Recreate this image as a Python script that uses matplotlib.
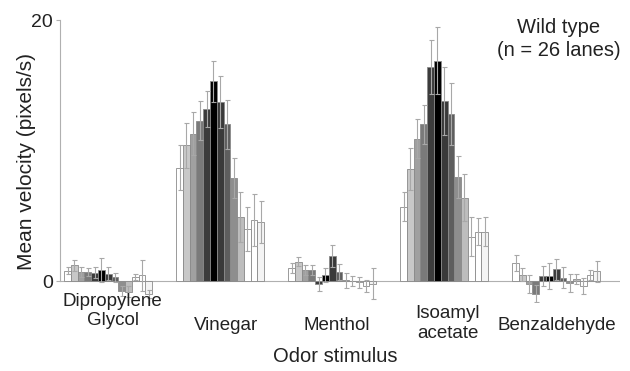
import numpy as np
import matplotlib
matplotlib.use("Agg")
import matplotlib.pyplot as plt
from matplotlib import transforms

plt.rcParams['font.family'] = ['Liberation Sans', 'DejaVu Sans']

odors = ["Dipropylene\nGlycol", "Vinegar", "Menthol", "Isoamyl\nacetate", "Benzaldehyde"]

dipropylene = [0.8, 1.2, 0.7, 0.7, 0.65, 0.85, 0.55, 0.3, -0.75, -0.8, 0.3, 0.45, -1.0]
dipropylene_err = [0.25, 0.4, 0.35, 0.3, 0.4, 0.9, 0.5, 0.35, 0.4, 0.4, 0.25, 1.2, 0.3]

vinegar = [8.7, 10.4, 11.3, 12.3, 13.2, 15.3, 13.7, 12.0, 7.9, 4.9, 4.0, 4.7, 4.5]
vinegar_err = [1.7, 1.7, 1.65, 1.5, 1.4, 1.6, 2.0, 1.9, 1.5, 1.9, 1.7, 2.0, 1.6]

menthol = [1.0, 1.5, 0.85, 0.85, -0.2, 0.45, 1.9, 0.7, 0.05, 0.02, -0.1, -0.35, -0.2]
menthol_err = [0.4, 0.35, 0.35, 0.35, 0.55, 0.55, 0.85, 0.6, 0.6, 0.4, 0.45, 0.45, 1.2]

isoamyl = [5.7, 8.6, 10.9, 12.0, 16.4, 16.9, 13.8, 12.8, 8.0, 6.4, 3.4, 3.8, 3.8]
isoamyl_err = [1.1, 1.6, 1.5, 1.5, 2.1, 2.55, 2.6, 2.35, 1.6, 1.8, 1.5, 1.0, 1.1]

benzaldehyde = [1.4, 0.5, -0.2, -0.95, 0.4, 0.4, 0.9, 0.25, -0.15, 0.15, -0.4, 0.45, 0.75]
benzaldehyde_err = [0.6, 0.5, 0.7, 0.65, 0.75, 1.0, 0.8, 0.8, 0.7, 0.4, 0.6, 0.4, 0.8]

bar_colors = ['#ffffff', '#c8c8c8', '#a0a0a0', '#7a7a7a', '#3c3c3c', '#000000',
              '#3a3a3a', '#5e5e5e', '#8e8e8e', '#bdbdbd', '#ffffff', '#ffffff', '#f4f4f4']

series = [dipropylene, vinegar, menthol, isoamyl, benzaldehyde]
errors = [dipropylene_err, vinegar_err, menthol_err, isoamyl_err, benzaldehyde_err]

fig = plt.figure(figsize=(6.3, 3.71), dpi=100)
ax = fig.add_axes([60/630, 0.186, 560/630, 0.946 - 0.186])

w = 0.0604
nb = len(bar_colors)
for g, (vals, errs) in enumerate(zip(series, errors)):
    xs = g + (np.arange(nb) - (nb - 1) / 2) * w
    ax.bar(xs, vals, width=w, color=bar_colors, edgecolor='#8a8a8a', linewidth=0.6, zorder=2)
    ax.errorbar(xs, vals, yerr=errs, fmt='none', ecolor='#a8a8a8', elinewidth=0.8,
                capsize=1.8, capthick=0.8, zorder=3)

ax.axhline(0, color='#b0b0b0', linewidth=0.8, zorder=1)
ax.set_xlim(-0.43, 4.57)
ax.set_ylim(-1.6, 20)
ax.set_yticks([0, 20])
ax.set_yticklabels(['0', '20'], fontsize=14, color='#222222')
ax.set_xticks([])
ax.tick_params(axis='y', length=3, color='#b0b0b0', pad=2)

# category labels (individually placed, as in the reference)
label_dx = [0.04, 0.05, 0.04, 0.03, 0.01]
label_y = [311, 326, 326, 323.5, 326]
trans = transforms.blended_transform_factory(ax.transData, fig.transFigure)
for g, name in enumerate(odors):
    ax.text(g + label_dx[g], 1 - label_y[g] / 371, name, transform=trans,
            fontsize=13.5, color='#222222', ha='center', va='center',
            linespacing=1.2, clip_on=False)

for s in ['top', 'right', 'bottom']:
    ax.spines[s].set_visible(False)
ax.spines['left'].set_color('#b0b0b0')
ax.spines['left'].set_linewidth(0.8)
ax.spines['left'].set_bounds(0, 20)

ax.set_ylabel('Mean velocity (pixels/s)', fontsize=15, color='#222222')
ax.yaxis.set_label_coords(-0.043, 0.5)
fig.text(335/630, 1 - 356/371, 'Odor stimulus', fontsize=14.5, color='#222222',
         ha='center', va='center')
fig.text(559/630, 1 - 39/371, 'Wild type\n(n = 26 lanes)', fontsize=14.5, color='#222222',
         ha='center', va='center', linespacing=1.25)

fig.savefig('out.png', dpi=100)
